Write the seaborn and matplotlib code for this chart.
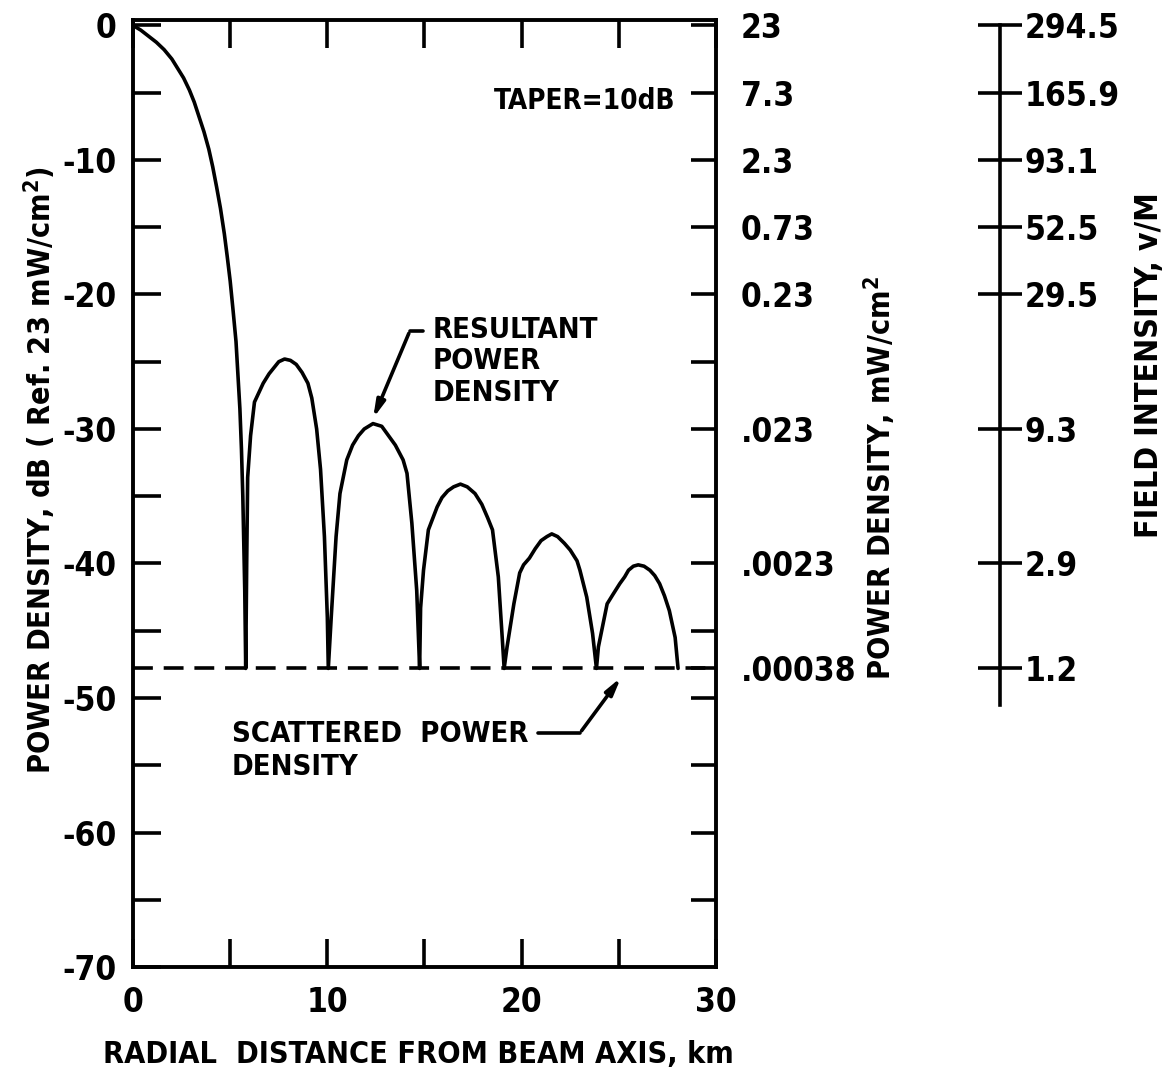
import matplotlib
matplotlib.use("Agg")
import matplotlib.pyplot as plt
import seaborn as sns
import pandas as pd

sns.set_style('white')
plt.rcParams['font.family'] = ['DejaVu Sans']
plt.rcParams['font.weight'] = 'bold'
plt.rcParams['font.stretch'] = 'condensed'
plt.rcParams['axes.unicode_minus'] = False
for key in ['text.color', 'axes.labelcolor', 'xtick.color', 'ytick.color', 'axes.edgecolor']:
    plt.rcParams[key] = 'black'

# resultant power density, main lobe then five side lobes
dist_km = [0, 0.4, 0.8, 1.2, 1.6, 2.0, 2.3, 2.6, 2.9, 3.15, 3.4, 3.65, 3.9, 4.1, 4.3, 4.5, 4.7, 4.85,
           5.0, 5.15, 5.3, 5.4, 5.5, 5.58, 5.65, 5.7, 5.75, 5.8,
           5.85, 5.9, 6.05, 6.25, 6.7, 7.0, 7.5, 7.8, 8.1, 8.4, 8.7, 9.0, 9.2, 9.45, 9.65, 9.85, 10.0, 10.05,
           10.2, 10.45, 10.65, 11.0, 11.3, 11.6, 11.9, 12.35, 12.8, 13.1, 13.5, 13.9, 14.1, 14.35, 14.6, 14.75,
           14.8, 14.95, 15.2, 15.65, 15.9, 16.2, 16.5, 16.85, 17.2, 17.6, 17.95, 18.25, 18.5, 18.8, 19.0, 19.1,
           19.25, 19.6, 19.9, 20.1, 20.4, 20.7, 21.0, 21.3, 21.55, 21.85, 22.2, 22.5, 22.85, 23.0, 23.35,
           23.65, 23.85,
           23.95, 24.4, 24.7, 25.05, 25.3, 25.5, 25.75, 26.0, 26.3, 26.6, 26.85, 27.1, 27.35, 27.6, 27.9, 28.05]
power_db = [0, -0.35, -0.8, -1.25, -1.8, -2.5, -3.2, -3.9, -4.8, -5.7, -6.8, -7.9, -9.2, -10.5, -12.0, -13.6,
            -15.5, -17.2, -19.0, -21.2, -23.5, -26.0, -28.5, -31.5, -35, -38.5, -42, -47.8,
            -40, -33.6, -30.5, -28.0, -26.6, -25.9, -25.0, -24.8, -24.9, -25.2, -25.8, -26.6, -27.7, -30.0,
            -33.0, -38.0, -44.0, -47.8,
            -44.0, -38.0, -34.8, -32.3, -31.2, -30.5, -30.0, -29.6, -29.8, -30.4, -31.2, -32.3, -33.3, -37.0,
            -42.0, -47.8,
            -43.3, -40.5, -37.5, -35.8, -35.1, -34.6, -34.3, -34.1, -34.3, -34.8, -35.6, -36.6, -37.5, -41.0,
            -45.5, -47.8,
            -46.2, -43.0, -40.7, -40.1, -39.6, -38.9, -38.3, -38.0, -37.8, -38.0, -38.5, -39.0, -39.8, -40.5,
            -42.5, -45.2, -47.8,
            -46.2, -43.0, -42.3, -41.5, -41.0, -40.5, -40.2, -40.1, -40.2, -40.5, -40.9, -41.5, -42.4, -43.5,
            -45.5, -47.8]

scattered_db = -47.8

right_tick_db = [0, -5, -10, -15, -20, -30, -40, -47.8]
right_tick_labels = ['23', '7.3', '2.3', '0.73', '0.23', '.023', '.0023', '.00038']
field_tick_labels = ['294.5', '165.9', '93.1', '52.5', '29.5', '9.3', '2.9', '1.2']

df = pd.DataFrame({'km': dist_km, 'db': power_db})

fig = plt.figure(figsize=(11.71, 10.72), dpi=100)
ax = fig.add_axes([0.1136, 0.0979, 0.4978, 0.8834])

sns.lineplot(data=df, x='km', y='db', sort=False, estimator=None, color='black', lw=2.6,
             solid_joinstyle='round', ax=ax)
ax.axhline(scattered_db, color='black', lw=2.6, ls=(0, (5.5, 3)))

ax.set_xlim(0, 30)
ax.set_ylim(-70, 0.4)
ax.set_xticks([0, 10, 20, 30])
ax.set_xticks([5, 15, 25], minor=True)
ax.set_yticks(range(0, -71, -10))
ax.set_yticks(range(-5, -70, -10), minor=True)
ax.tick_params(which='both', direction='in', length=20, width=2.6, labelsize=24,
               top=True, bottom=True, left=True, right=False)
ax.tick_params(axis='x', pad=14)
ax.tick_params(axis='y', pad=12)
for s in ax.spines.values():
    s.set_linewidth(2.8)

ax.set_xlabel('RADIAL  DISTANCE FROM BEAM AXIS, km', fontsize=22, fontweight='bold')
ax.xaxis.set_label_coords(0.49, -0.077)
ax.set_ylabel('POWER DENSITY, dB ( Ref. 23 mW/cm$^\\mathbf{2}$)', fontsize=22, fontweight='bold', va='center')
ax.yaxis.set_label_coords(-0.16, 0.525)

# power density scale on the right spine
ax2 = ax.twinx()
ax2.set_ylim(ax.get_ylim())
ax2.set_yticks(right_tick_db, right_tick_labels)
ax2.set_yticks([-25, -35, -45, -50, -55, -60, -65], minor=True)
ax2.tick_params(which='both', direction='in', length=18, width=2.6, labelsize=24, pad=18)
for s in ax2.spines.values():
    s.set_visible(False)
ax2.set_ylabel('POWER DENSITY, mW/cm$^\\mathbf{2}$', fontsize=22, fontweight='bold', va='center')
ax2.yaxis.set_label_coords(1.281, 0.516)

# field intensity scale, free standing
ax3 = ax.twinx()
ax3.set_ylim(ax.get_ylim())
for s in ['top', 'bottom', 'left']:
    ax3.spines[s].set_visible(False)
ax3.spines['right'].set_position(('axes', 1.487))
ax3.spines['right'].set_bounds(-50.5, 0)
ax3.spines['right'].set_linewidth(2.6)
ax3.spines['right'].set_color('black')
ax3.set_yticks(right_tick_db, field_tick_labels)
ax3.tick_params(direction='inout', length=32, width=2.6, labelsize=24, pad=2)
ax3.set_ylabel('FIELD INTENSITY, v/M', fontsize=23, fontweight='bold', va='center')
ax3.yaxis.set_label_coords(1.744, 0.636)

ax.text(27.9, -5.6, 'TAPER=10dB', fontsize=20, fontweight='bold', ha='right', va='center')

ax.text(15.4, -21.6, 'RESULTANT\nPOWER\nDENSITY', fontsize=21, fontweight='bold',
        ha='left', va='top', linespacing=1.15)
ax.plot([14.9, 14.25], [-22.7, -22.7], color='black', lw=2.6)
ax.annotate('', xy=(12.3, -29.4), xytext=(14.25, -22.7),
            arrowprops=dict(arrowstyle='-|>,head_length=1.0,head_width=0.25', lw=2.6, color='black'))

ax.text(5.1, -51.6, 'SCATTERED  POWER\nDENSITY', fontsize=21, fontweight='bold',
        ha='left', va='top', linespacing=1.25)
ax.plot([20.84, 23.0], [-52.6, -52.6], color='black', lw=2.6)
ax.annotate('', xy=(25.2, -48.3), xytext=(23.0, -52.6),
            arrowprops=dict(arrowstyle='-|>,head_length=1.0,head_width=0.25', lw=2.6, color='black'))

fig.savefig('out.png', dpi=100, facecolor='white')
